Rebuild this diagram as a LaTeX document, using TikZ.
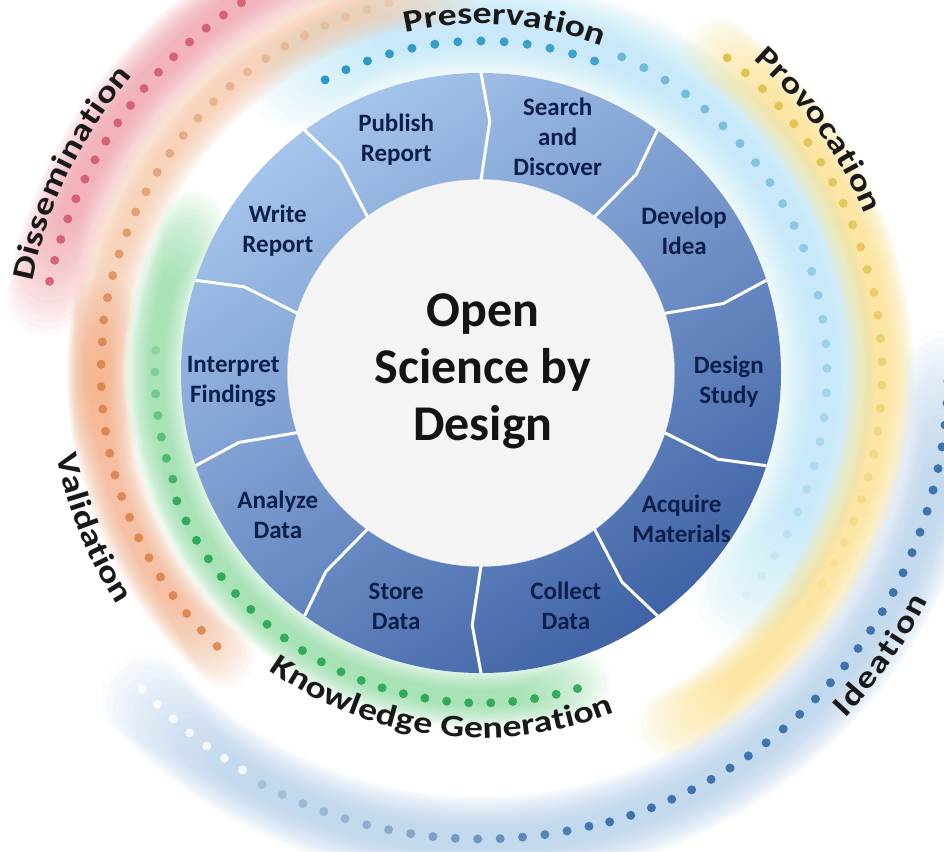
\documentclass[tikz,border=0pt]{standalone}
\usepackage{fontspec}
\setmainfont{Carlito}
\newfontfamily\arcfam{Carlito}[FakeStretch=1.22]
\usetikzlibrary{decorations.text}

\definecolor{ringlight}{HTML}{A6C5EC}
\definecolor{ringdark}{HTML}{4063A6}
\definecolor{hubfill}{HTML}{F4F4F4}
\definecolor{navytext}{HTML}{0D1F4A}
\definecolor{pinkglow}{HTML}{F39AA5}
\definecolor{peachglow}{HTML}{F8C9A8}
\definecolor{orangeglow}{HTML}{F5AE86}
\definecolor{greenglow}{HTML}{8EDDA2}
\definecolor{cyanglow}{HTML}{BAE8F9}
\definecolor{yellowglow}{HTML}{FCE387}
\definecolor{blueglow}{HTML}{B3CFED}
\definecolor{reddot}{HTML}{D35B6E}
\definecolor{orangedot}{HTML}{D98045}
\definecolor{peachdot}{HTML}{E6B48E}
\definecolor{greendot}{HTML}{2DAA55}
\definecolor{cyandot}{HTML}{2A98C4}
\definecolor{yellowdot}{HTML}{DCBF45}
\definecolor{bluedot}{HTML}{3E73AD}
\definecolor{bluegray}{HTML}{8AA6C8}

\newcommand{\arcfont}{\arcfam\bfseries\fontsize{31}{31}\selectfont}

% soft band: colour, radius, width, from angle, to angle, fade
\newcommand{\glowarc}[6]{%
  \foreach \k in {0,...,19}{
    \pgfmathsetmacro\glw{#3*(1-0.04*\k)}
    \pgfmathsetmacro\gsa{#4+#6*\k/19}
    \pgfmathsetmacro\gea{#5-#6*\k/19}
    \draw[#1, line width=\glw pt, line cap=round, opacity=0.06] (\gsa:#2) arc[start angle=\gsa, end angle=\gea, radius=#2];
  }}

% row of dots: colour from, colour to, radius, from angle, to angle, steps, opacity from, opacity to
\newcommand{\dotrow}[8]{%
  \foreach \j in {0,...,#6}{
    \pgfmathsetmacro\da{#4+(#5-#4)*\j/#6}
    \pgfmathsetmacro\dop{#7+(#8-#7)*\j/#6}
    \pgfmathtruncatemacro\dmix{100*\j/#6}
    \fill[#2!\dmix!#1, opacity=\dop] (\da:#3) circle[radius=4.5];
  }}

\begin{document}
\begin{tikzpicture}[x=1pt,y=1pt,
    seglabel/.style={align=center, text=navytext, font=\bfseries\fontsize{25}{30}\selectfont},
    hubtext/.style={align=center, text=black!92, font=\bfseries\fontsize{50}{57}\selectfont},
    divider/.style={white, line width=3, line join=round}]
    \useasboundingbox (-481,-478) rectangle (463,373);
    \clip (-481,-478) rectangle (463,373);
    \fill[white] (-481,-478) rectangle (463,373);

    % soft bands
    \glowarc{cyanglow}{345}{100}{-40}{122}{18}
    \glowarc{yellowglow}{400}{66}{-62}{54}{12}
    \glowarc{blueglow}{467}{88}{-136}{0}{14}
    \glowarc{pinkglow}{442}{78}{98}{170}{12}
    \glowarc{peachglow}{383}{64}{95}{190}{14}
    \glowarc{orangeglow}{383}{60}{170}{228}{12}
    \glowarc{greenglow}{325}{60}{152}{288}{12}

    % dotted tracks
    \dotrow{cyandot}{cyandot}{332}{118}{70}{12}{1}{0.85}
    \dotrow{cyandot}{cyandot}{346}{66}{-40}{26}{0.6}{0.05}
    \dotrow{yellowdot}{yellowdot}{400}{52}{15}{11}{0.9}{0.7}
    \dotrow{yellowdot}{yellowdot}{401}{11.6}{-35}{14}{0.6}{0.08}
    \dotrow{bluedot}{bluedot}{467}{-1}{-74}{27}{1}{1}
    \dotrow{bluedot}{bluegray}{466}{-76.6}{-118}{15}{0.95}{0.45}
    \dotrow{white}{white}{463}{-121}{-137}{6}{0.8}{0.8}
    \dotrow{reddot}{reddot}{441}{168}{106}{22}{0.9}{0.9}
    \dotrow{peachdot}{orangedot}{381}{104}{172}{20}{0.45}{0.8}
    \dotrow{orangedot}{orangedot}{380}{175.3}{226}{15}{0.85}{0.85}
    \dotrow{greendot}{greendot}{326}{176}{199}{6}{0.25}{0.8}
    \dotrow{greendot}{greendot}{330}{202.8}{287}{22}{0.95}{0.95}

    % wheel
    \newcommand{\Rout}{300}
    \newcommand{\Rin}{193}
    \shade[top color=ringlight, bottom color=ringdark, shading angle=35] (0,0) circle[radius=\Rout];
    \fill[hubfill] (0,0) circle[radius=\Rin];
    \draw[white, line width=1.5, opacity=0.7] (0,0) circle[radius=\Rin];
    \foreach \a in {90,54,...,-234}
      \draw[divider] (\a:\Rin) -- ({\a-2}:252) -- (\a:\Rout);

    \foreach \a/\txt [count=\i] in {110/{Publish\\Report}, 72/{Search\\and\\Discover},
        35/{Develop\\Idea}, -2/{Design\\Study}, -36/{Acquire\\Materials}, -70/{Collect\\Data},
        -110/{Store\\Data}, -145/{Analyze\\Data}, 182/{Interpret\\Findings}, 145/{Write\\Report}}
      \node[seglabel] (seg\i) at (\a:248) {\txt};

    \node[hubtext] (hub) at (2,2) {Open\\Science by\\Design};

    % curved phase names
    \path[decorate, decoration={text along path, text align=fit to path, text color=black!90,
        text={|\arcfont|Preservation}}] (102.5:349) arc[start angle=102.5, end angle=70, radius=349];
    \path[decorate, decoration={text along path, text align=fit to path, text color=black!90,
        text={|\arcfont|Provocation}}] (49:415) arc[start angle=49, end angle=22.5, radius=415];
    \path[decorate, decoration={text along path, text align=fit to path, text color=black!90,
        text={|\arcfont|Dissemination}}] (168.5:458) arc[start angle=168.5, end angle=139.5, radius=458];
    \path[decorate, decoration={text along path, text align=fit to path, text color=black!90,
        text={|\arcfont|Validation}}] (191:432) arc[start angle=191, end angle=212.5, radius=432];
    \path[decorate, decoration={text along path, text align=fit to path, text color=black!90,
        text={|\arcfont|Knowledge Generation}}] (234.5:365) arc[start angle=234.5, end angle=291.5, radius=365];
    \path[decorate, decoration={text along path, text align=fit to path, text color=black!90,
        text={|\arcfont|Ideation}}] (-43.5:502) arc[start angle=-43.5, end angle=-27, radius=502];
\end{tikzpicture}
\end{document}
